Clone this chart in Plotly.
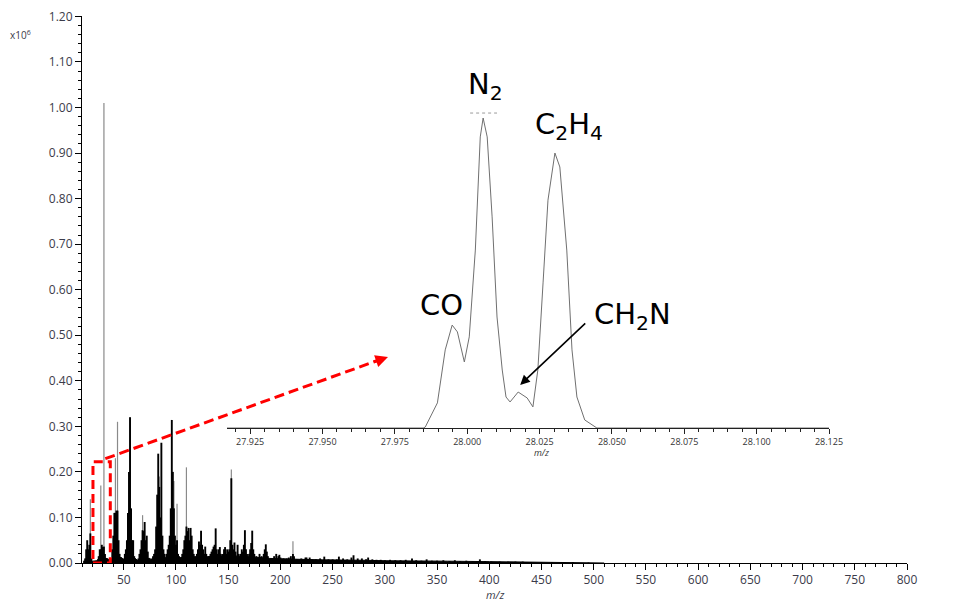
import plotly.graph_objects as go

# ---------------- data ----------------
# tall thin grey lines of the full spectrum (m/z, intensity x1e6)
gray_mz = [18, 28, 31, 42, 44, 56, 68, 84, 98, 101, 110, 153, 212]
gray_int = [0.14, 0.17, 1.01, 0.23, 0.31, 0.32, 0.105, 0.19, 0.18, 0.13, 0.21, 0.205, 0.048]

# dense black stick clusters
black_mz = [12, 13, 14, 15, 16, 17, 18, 19,
            26, 27, 28, 29, 30, 31, 32, 33,
            38, 39, 40, 41, 42, 43, 44, 45, 46,
            50, 51, 52, 53, 54, 55, 56, 57, 58, 59, 60,
            64, 65, 66, 67, 68, 69, 70, 71, 72, 73, 74,
            77, 78, 79, 80, 81, 82, 83, 84, 85, 86, 87, 88, 89,
            91, 92, 93, 94, 95, 96, 97, 98, 99, 100, 101, 102, 103,
            106, 107, 108, 109, 110, 111, 112, 113, 114, 115, 116, 117,
            120, 121, 122, 123, 124, 125, 126, 127, 128, 129,
            133, 134, 135, 136, 137, 138, 139, 140, 141, 142, 143, 145, 146, 147, 148, 149, 150,
            151, 152, 153, 154, 155, 156, 157, 159, 160, 162, 163, 164, 165, 166, 167, 168,
            170, 171, 172, 173, 174, 175, 177, 180, 182, 184, 185, 186, 187, 188,
            191, 194, 196, 198, 199, 200, 203, 206, 208, 210, 212, 213, 216, 220,
            224, 225, 228, 230, 234, 238, 242, 246, 250, 254, 256, 260, 264, 268,
            270, 274, 278, 282, 284, 288, 292, 296, 300, 305, 310, 315, 320, 326,
            330, 335, 340, 345, 350, 356, 362, 367, 372, 378, 384, 391, 396, 402,
            410, 418, 425, 432, 440, 450, 460, 470, 480, 495]
black_int = [0.005, 0.01, 0.03, 0.05, 0.03, 0.04, 0.065, 0.01,
             0.015, 0.03, 0.03, 0.04, 0.035, 0.036, 0.02, 0.01,
             0.01, 0.03, 0.06, 0.11, 0.11, 0.115, 0.115, 0.05, 0.02,
             0.01, 0.02, 0.03, 0.05, 0.11, 0.2, 0.32, 0.12, 0.05, 0.05, 0.015,
             0.01, 0.02, 0.03, 0.05, 0.072, 0.07, 0.09, 0.05, 0.06, 0.025, 0.01,
             0.01, 0.015, 0.02, 0.03, 0.08, 0.15, 0.24, 0.167, 0.1, 0.264, 0.06, 0.03, 0.02,
             0.02, 0.03, 0.04, 0.06, 0.12, 0.314, 0.2, 0.12, 0.06, 0.04, 0.05, 0.02, 0.015,
             0.02, 0.03, 0.05, 0.06, 0.08, 0.07, 0.077, 0.05, 0.077, 0.06, 0.03, 0.02,
             0.02, 0.03, 0.047, 0.04, 0.071, 0.04, 0.03, 0.02, 0.036, 0.02,
             0.02, 0.025, 0.03, 0.036, 0.04, 0.076, 0.03, 0.02, 0.03, 0.035, 0.02, 0.02, 0.03, 0.035, 0.02, 0.03, 0.025,
             0.03, 0.05, 0.186, 0.04, 0.03, 0.045, 0.025, 0.04, 0.02, 0.02, 0.03, 0.025, 0.04, 0.072, 0.03, 0.02,
             0.02, 0.03, 0.044, 0.071, 0.03, 0.02, 0.015, 0.02, 0.015, 0.02, 0.03, 0.041, 0.025, 0.015,
             0.01, 0.015, 0.02, 0.015, 0.018, 0.012, 0.01, 0.01, 0.012, 0.015, 0.02, 0.015, 0.008, 0.01,
             0.012, 0.012, 0.012, 0.008, 0.008, 0.01, 0.014, 0.008, 0.008, 0.008, 0.014, 0.01, 0.008, 0.012,
             0.017, 0.01, 0.01, 0.008, 0.012, 0.008, 0.007, 0.007, 0.006, 0.007, 0.006, 0.006, 0.007, 0.01,
             0.006, 0.005, 0.008, 0.005, 0.005, 0.006, 0.004, 0.006, 0.004, 0.005, 0.004, 0.008, 0.004, 0.003,
             0.003, 0.003, 0.003, 0.003, 0.002, 0.002, 0.002, 0.002, 0.002, 0.001]

# low "grass" envelope along the baseline
base_mz = [12, 14, 20, 24, 26, 34, 37, 40, 48, 50, 53, 60, 63, 66, 75, 77, 80, 90, 92, 104,
           106, 120, 130, 140, 150, 160, 170, 180, 190, 200, 220, 240, 260, 280, 300, 330,
           360, 400, 450, 500, 510]
base_int = [0, 0.01, 0.004, 0.005, 0.01, 0.01, 0.006, 0.012, 0.012, 0.006, 0.012, 0.012, 0.006,
            0.01, 0.01, 0.006, 0.012, 0.012, 0.01, 0.012, 0.012, 0.014, 0.014, 0.015, 0.016,
            0.015, 0.014, 0.012, 0.01, 0.009, 0.008, 0.007, 0.007, 0.006, 0.005, 0.005, 0.004,
            0.003, 0.002, 0.001, 0]

y_ticks = [0.0, 0.1, 0.2, 0.3, 0.4, 0.5, 0.6, 0.7, 0.8, 0.9, 1.0, 1.1, 1.2]
x_ticks = [50, 100, 150, 200, 250, 300, 350, 400, 450, 500, 550, 600, 650, 700, 750, 800]

# inset: high resolution profile around m/z 28 (relative intensity)
inset_mz = [27.917, 27.9848, 27.9855, 27.9897, 27.9924, 27.9948, 27.9966, 27.9990, 28.0007,
            28.0028, 28.0045, 28.0055, 28.0069, 28.0086, 28.0103, 28.0121, 28.0134, 28.0148,
            28.0176, 28.0207, 28.0227, 28.0244, 28.0262, 28.0279, 28.0303, 28.0320, 28.0344,
            28.0362, 28.0379, 28.0406, 28.0448, 28.125]
inset_int = [0, 0, 0.003, 0.081, 0.252, 0.332, 0.310, 0.213, 0.294, 0.574, 0.939, 1.0, 0.939,
             0.681, 0.358, 0.187, 0.100, 0.084, 0.116, 0.097, 0.068, 0.187, 0.468, 0.735,
             0.887, 0.842, 0.574, 0.252, 0.100, 0.026, 0, 0]
inset_ticks = [27.925, 27.950, 27.975, 28.000, 28.025, 28.050, 28.075, 28.100, 28.125]

# labels of the inset peaks (text, m/z, rel. height)
peak_labels = ["N<sub>2</sub>", "C<sub>2</sub>H<sub>4</sub>", "CO", "CH<sub>2</sub>N"]
label_mz = [28.0062, 28.0351, 27.9910, 28.0572]
label_y = [1.104, 0.975, 0.397, 0.362]


def sticks(mz, h):
    xs, ys = [], []
    for m, v in zip(mz, h):
        xs += [m, m, None]
        ys += [0, v, None]
    return xs, ys


fig = go.Figure()

gx, gy = sticks(gray_mz, gray_int)
fig.add_trace(go.Scatter(x=gx, y=gy, mode="lines", line=dict(color="#8a8a8a", width=1.2),
                         hoverinfo="skip", showlegend=False))
fig.add_trace(go.Scatter(x=base_mz, y=base_int, mode="lines", fill="tozeroy",
                         fillcolor="black", line=dict(color="black", width=1),
                         hoverinfo="skip", showlegend=False))
bx, by = sticks(black_mz, black_int)
fig.add_trace(go.Scatter(x=bx, y=by, mode="lines", line=dict(color="black", width=1.9),
                         hoverinfo="skip", showlegend=False))

fig.add_trace(go.Scatter(x=inset_mz, y=inset_int, xaxis="x2", yaxis="y2", mode="lines",
                         line=dict(color="#707070", width=1), hoverinfo="skip",
                         showlegend=False))

# plot area in window pixels: x 82..907, y 16..563 (page body adds an 8px offset)
OFF = 8
L, R, T, B = 82, 907, 16, 563
W, H = R - L, B - T
FIG_W, FIG_H = 960 - OFF, 611 - OFF


def px(xp):
    return (xp - L) / W


def py(yp):
    return (B - yp) / H


tickfont = dict(family="Open Sans, DejaVu Sans, sans-serif", size=12, color="#3b3b4a")

fig.update_layout(
    width=FIG_W, height=FIG_H,
    margin=dict(l=L - OFF, r=960 - R, t=T - OFF, b=611 - B, autoexpand=False),
    paper_bgcolor="white", plot_bgcolor="rgba(0,0,0,0)",
    showlegend=False,
    xaxis=dict(range=[10, 800], showgrid=False, zeroline=False, showline=True,
               linecolor="black", linewidth=1, ticks="outside", ticklen=6,
               tickcolor="black", tickvals=x_ticks, tickfont=tickfont, automargin=False,
               ticklabeloverflow="allow",
               minor=dict(dtick=10, tick0=0, ticks="outside", ticklen=3,
                          tickcolor="black", showgrid=False)),
    yaxis=dict(range=[0, 1.2008], showgrid=False, zeroline=False, showline=True,
               linecolor="black", linewidth=1, ticks="outside", ticklen=6,
               tickcolor="black", tickvals=y_ticks, tickformat=".2f", tickfont=tickfont,
               automargin=False, ticklabeloverflow="allow",
               minor=dict(dtick=0.02, tick0=0, ticks="outside", ticklen=3,
                          tickcolor="black", showgrid=False)),
    xaxis2=dict(domain=[px(227), px(829)], anchor="y2", range=[27.917, 28.125],
                showgrid=False, zeroline=False, showline=True, linecolor="#222",
                linewidth=1, ticks="outside", ticklen=5, tickcolor="#222",
                tickvals=inset_ticks, tickformat=".3f", automargin=False,
                ticklabeloverflow="allow",
                tickfont=dict(family="Open Sans, DejaVu Sans, sans-serif", size=9, color="#333"),
                minor=dict(dtick=0.005, tick0=27.92, ticks="outside", ticklen=3,
                           tickcolor="#222", showgrid=False)),
    yaxis2=dict(domain=[py(428), py(428 - 1.2 * 310)], anchor="x2", range=[0, 1.2],
                visible=False),
)

# peak labels in the inset
for txt, xm, yv in zip(peak_labels, label_mz, label_y):
    fig.add_annotation(x=xm, y=yv, xref="x2", yref="y2", text=txt, showarrow=False,
                       font=dict(family="DejaVu Sans, Verdana, sans-serif", size=29,
                                 color="black"))

# arrow to CH2N
fig.add_annotation(x=28.0183, y=0.139, ax=28.0413, ay=0.342, xref="x2", yref="y2",
                   axref="x2", ayref="y2", text="", showarrow=True, arrowhead=2,
                   arrowsize=1.2, arrowwidth=1.6, arrowcolor="black")

# dotted gray marker above N2
fig.add_shape(type="line", xref="x2", yref="y2", x0=28.0010, x1=28.0103, y0=1.016, y1=1.016,
              line=dict(color="#9a9a9a", width=1, dash="dot"))

# red dashed zoom box and connector
fig.add_shape(type="rect", xref="x", yref="y", x0=20.5, x1=37.1, y0=0.0, y1=0.222,
              line=dict(color="red", width=3, dash="9px,5px"), layer="above")
fig.add_shape(type="line", xref="x", yref="y", x0=32.3, y0=0.229, x1=296, y1=0.447,
              line=dict(color="red", width=3, dash="10px,5px"), layer="above")
fig.add_annotation(x=303, y=0.452, ax=288, ay=0.440, xref="x", yref="y", axref="x",
                   ayref="y", text="", showarrow=True, arrowhead=2, arrowsize=1,
                   arrowwidth=2.5, arrowcolor="red")

# axis texts
fig.add_annotation(x=px(8), y=py(26), xref="paper", yref="paper", text="x10<sup>6</sup>",
                   showarrow=False, xanchor="left",
                   font=dict(family="Open Sans, DejaVu Sans, sans-serif", size=10, color="#3b3b4a"))
fig.add_annotation(x=px(495), y=py(604), xref="paper", yref="paper", text="<i>m/z</i>",
                   showarrow=False,
                   font=dict(family="Open Sans, DejaVu Sans, sans-serif", size=11, color="#3b3b4a"))
fig.add_annotation(x=px(541), y=py(461), xref="paper", yref="paper", text="<i>m/z</i>",
                   showarrow=False,
                   font=dict(family="Open Sans, DejaVu Sans, sans-serif", size=9, color="#333"))

fig.write_html("out.html")
